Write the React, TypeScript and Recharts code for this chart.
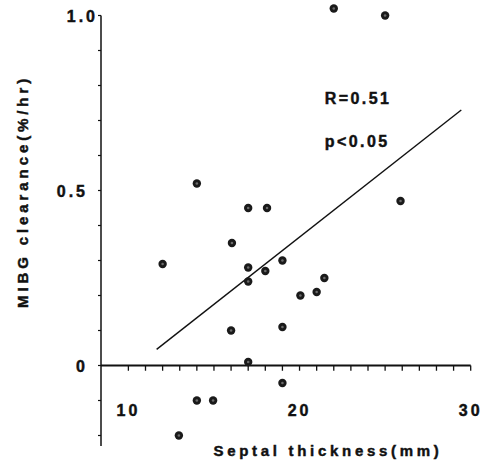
import React from 'react';
import { ScatterChart, Scatter, XAxis, YAxis, ReferenceLine, ReferenceDot, Label } from 'recharts';

// Septal thickness (mm) of each patient
const septalThickness = [14.0, 17.0, 18.1, 25.9, 22.0, 25.0, 12.0, 16.05, 17.0, 18.0, 19.0, 17.0, 20.05, 21.0, 21.45, 16.0, 19.0, 17.0, 19.0, 14.0, 14.95, 12.95];
// MIBG clearance (%/hr) of each patient
const mibgClearance = [0.52, 0.45, 0.45, 0.47, 1.02, 1.0, 0.29, 0.35, 0.28, 0.27, 0.30, 0.24, 0.20, 0.21, 0.25, 0.10, 0.11, 0.01, -0.05, -0.10, -0.10, -0.20];

// Regression line end points
const regressionX = [11.65, 29.45];
const regressionY = [0.046, 0.73];

const xDomain = [8.4, 30];
const yDomain = [-0.23, 1.04];
const yAxisTop = 1.0;
const xTickLabels = [10, 20, 30];
const xMinorTicks = [10, 11, 12, 13, 14, 15, 16, 17, 18, 19, 20, 21, 22, 23, 24, 25, 26, 27, 28, 29, 30];
const yTicks = [-0.2, -0.1, 0, 0.1, 0.2, 0.3, 0.4, 0.5, 0.6, 0.7, 0.8, 0.9, 1.0];
const yTickLabels = [0, 0.5, 1.0];
const yTickText: Record<string, string> = { '0': '0', '0.5': '0.5', '1': '1.0' };

const statLabels = ['R=0.51', 'p<0.05'];
const statX = 21.48;
const statY = [0.747, 0.625];

const xTitle = 'Septal thickness(mm)';
const yTitle = 'MIBG clearance(%/hr)';

const points = septalThickness.map((x, i) => ({ x, y: mibgClearance[i] }));

const FONT = '"Liberation Sans", Arial, Helvetica, sans-serif';
const TEXT_STYLE = { fontFamily: FONT, fontWeight: 'bold' as const, fill: '#111', stroke: '#111', strokeWidth: 0.45 };

const Dot = (props: any) => {
  const { cx, cy } = props;
  if (cx == null || cy == null) return null;
  return (
    <g>
      <circle cx={cx} cy={cy} r={4.2} fill="#1a1a1a" />
      <circle cx={cx} cy={cy} r={1.3} fill="#6a6a6a" />
    </g>
  );
};

const XTick = (props: any) => {
  const { x, y, payload } = props;
  return (
    <text x={x} y={y - 30} textAnchor="middle" fontSize={16} letterSpacing={3} {...TEXT_STYLE}>
      {payload.value}
    </text>
  );
};

const YTick = (props: any) => {
  const { x, y, payload } = props;
  const v = Math.round(payload.value * 10) / 10;
  if (!yTickLabels.includes(v)) return null;
  const shift = v === 1 ? 10 : 0;
  return (
    <text x={x - 8 + shift} y={y + 6} textAnchor="end" fontSize={16} letterSpacing={3} {...TEXT_STYLE}>
      {yTickText[String(v)]}
    </text>
  );
};

export default function App() {
  return (
    <div style={{ position: 'absolute', left: 0, top: 0, width: 486, height: 466, background: '#fff' }}>
      <ScatterChart width={486} height={466} margin={{ top: 1.5, right: 15.3, bottom: 0, left: 0 }}>
        <XAxis
          type="number"
          dataKey="x"
          domain={xDomain}
          ticks={xTickLabels}
          axisLine={false}
          tickLine={false}
          tickSize={0}
          tickMargin={0}
          height={20}
          tick={<XTick />}
          interval={0}
          allowDecimals
        >
          <Label
            content={(p: any) => {
              const vb = p.viewBox || { x: 0, y: 0, width: 0, height: 0 };
              return (
                <text x={vb.x + 227} y={vb.y + 9.5} textAnchor="middle" fontSize={15} letterSpacing={3.7} {...TEXT_STYLE}>
                  {xTitle}
                </text>
              );
            }}
          />
        </XAxis>
        <YAxis
          type="number"
          dataKey="y"
          domain={yDomain}
          ticks={yTicks}
          width={101}
          axisLine={false}
          tickLine={{ stroke: '#111', strokeWidth: 1.2 }}
          tickSize={3}
          tickMargin={2}
          tick={<YTick />}
          interval={0}
        >
          <Label
            content={(p: any) => {
              const vb = p.viewBox || { x: 0, y: 0, width: 0, height: 0 };
              const cx = vb.x + 28;
              const cy = vb.y + 190;
              return (
                <text x={cx} y={cy} transform={`rotate(-90, ${cx}, ${cy})`} textAnchor="middle" fontSize={15} letterSpacing={3.9} {...TEXT_STYLE}>
                  {yTitle}
                </text>
              );
            }}
          />
        </YAxis>

        {/* y axis line */}
        <ReferenceLine
          segment={[{ x: xDomain[0], y: yDomain[0] }, { x: xDomain[0], y: yAxisTop }]}
          stroke="#111"
          strokeWidth={1.5}
          ifOverflow="visible"
        />
        {/* x axis line at zero */}
        <ReferenceLine
          segment={[{ x: xDomain[0], y: 0 }, { x: xDomain[1], y: 0 }]}
          stroke="#111"
          strokeWidth={2}
          ifOverflow="visible"
        />
        {xMinorTicks.map((t) => (
          <ReferenceLine
            key={t}
            segment={[{ x: t, y: 0 }, { x: t, y: -0.015 }]}
            stroke="#111"
            strokeWidth={1.3}
            ifOverflow="visible"
          />
        ))}

        {/* regression line */}
        <ReferenceLine
          segment={[{ x: regressionX[0], y: regressionY[0] }, { x: regressionX[1], y: regressionY[1] }]}
          stroke="#111"
          strokeWidth={1.4}
          ifOverflow="visible"
        />

        {statLabels.map((s, i) => (
          <ReferenceDot
            key={s}
            x={statX}
            y={statY[i]}
            r={1}
            fill="none"
            stroke="none"
            ifOverflow="visible"
            label={{
              content: (p: any) => {
                const vb = p.viewBox || { x: 0, y: 0, width: 0, height: 0 };
                return (
                  <text x={vb.x + 1} y={vb.y + 1} textAnchor="start" fontSize={16} letterSpacing={2.4} {...TEXT_STYLE}>
                    {s}
                  </text>
                );
              },
            }}
          />
        ))}

        <Scatter data={points} shape={<Dot />} isAnimationActive={false} />
      </ScatterChart>
    </div>
  );
}
